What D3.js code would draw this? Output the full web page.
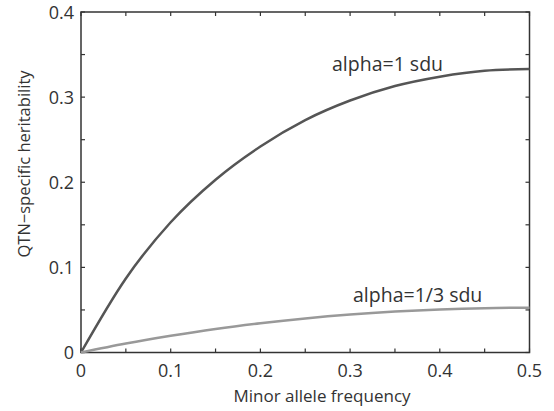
<!DOCTYPE html>
<html>
<head>
<meta charset="utf-8">
<script src="https://cdn.jsdelivr.net/npm/d3@7"></script>
<style>
  body { margin: 0; background: #fff; }
  text { font-family: "Open Sans", Lato, sans-serif; fill: #333; }
</style>
</head>
<body>
<svg id="chart" width="554" height="411"></svg>
<script>
// valores
var freq = [0, 0.05, 0.1, 0.15, 0.2, 0.25, 0.3, 0.35, 0.4, 0.45, 0.5];
var herAlpha1 = [0, 0.087, 0.153, 0.203, 0.242, 0.273, 0.296, 0.313, 0.324, 0.331, 0.333];
var herAlpha3 = [0, 0.0105, 0.0196, 0.0276, 0.0343, 0.040, 0.0446, 0.0481, 0.0506, 0.0521, 0.0526];
var xTicks = [0, 0.1, 0.2, 0.3, 0.4, 0.5];
var yTicks = [0, 0.1, 0.2, 0.3, 0.4];
var xMinor = [0.05, 0.15, 0.25, 0.35, 0.45];
var yMinor = [0.05, 0.15, 0.25, 0.35];

var margin = { left: 81, right: 24.5, top: 12, bottom: 58.5 };
var W = 554, H = 411;
var svg = d3.select("#chart");

var x = d3.scaleLinear().domain([0, 0.5]).range([margin.left, W - margin.right]);
var y = d3.scaleLinear().domain([0, 0.4]).range([H - margin.bottom, margin.top]);

var axisColor = "#333";

// caixa
svg.append("rect")
  .attr("x", x(0)).attr("y", y(0.4))
  .attr("width", x(0.5) - x(0)).attr("height", y(0) - y(0.4))
  .attr("fill", "none").attr("stroke", axisColor).attr("stroke-width", 1.5);

// ticks internos nos quatro lados
function ticks(vals, len) {
  vals.forEach(function (v) {
    svg.append("line").attr("x1", x(v)).attr("x2", x(v)).attr("y1", y(0)).attr("y2", y(0) - len)
      .attr("stroke", axisColor).attr("stroke-width", 1.2);
    svg.append("line").attr("x1", x(v)).attr("x2", x(v)).attr("y1", y(0.4)).attr("y2", y(0.4) + len)
      .attr("stroke", axisColor).attr("stroke-width", 1.2);
  });
}
function yticks(vals, len) {
  vals.forEach(function (v) {
    svg.append("line").attr("x1", x(0)).attr("x2", x(0) + len).attr("y1", y(v)).attr("y2", y(v))
      .attr("stroke", axisColor).attr("stroke-width", 1.2);
    svg.append("line").attr("x1", x(0.5)).attr("x2", x(0.5) - len).attr("y1", y(v)).attr("y2", y(v))
      .attr("stroke", axisColor).attr("stroke-width", 1.2);
  });
}
ticks(xTicks, 4); ticks(xMinor, 4);
yticks(yTicks, 4); yticks(yMinor, 4);

svg.selectAll(".xlab").data(xTicks).join("text")
  .attr("x", d => x(d)).attr("y", y(0) + 24)
  .attr("text-anchor", "middle").attr("font-size", 18)
  .text(d => d === 0 ? "0" : d);

svg.selectAll(".ylab").data(yTicks).join("text")
  .attr("x", x(0) - 7).attr("y", d => y(d) + 6.5)
  .attr("text-anchor", "end").attr("font-size", 18)
  .text(d => d === 0 ? "0" : d);

svg.append("text").attr("x", 322).attr("y", 402)
  .attr("text-anchor", "middle").attr("font-size", 17).text("Minor allele frequency");

svg.append("text").attr("transform", "translate(30,164) rotate(-90)")
  .attr("text-anchor", "middle").attr("font-size", 16.5).text("QTN\u2212specific heritability");

var line = d3.line().x((d, i) => x(freq[i])).y(d => y(d)).curve(d3.curveMonotoneX);

svg.append("path").datum(herAlpha1).attr("d", line)
  .attr("fill", "none").attr("stroke", "#555").attr("stroke-width", 2.5);
svg.append("path").datum(herAlpha3).attr("d", line)
  .attr("fill", "none").attr("stroke", "#999").attr("stroke-width", 2.5);

svg.append("text").attr("x", 332).attr("y", 71).attr("font-size", 19.5).text("alpha=1 sdu");
svg.append("text").attr("x", 353).attr("y", 302).attr("font-size", 19.5).text("alpha=1/3 sdu");
</script>
</body>
</html>
